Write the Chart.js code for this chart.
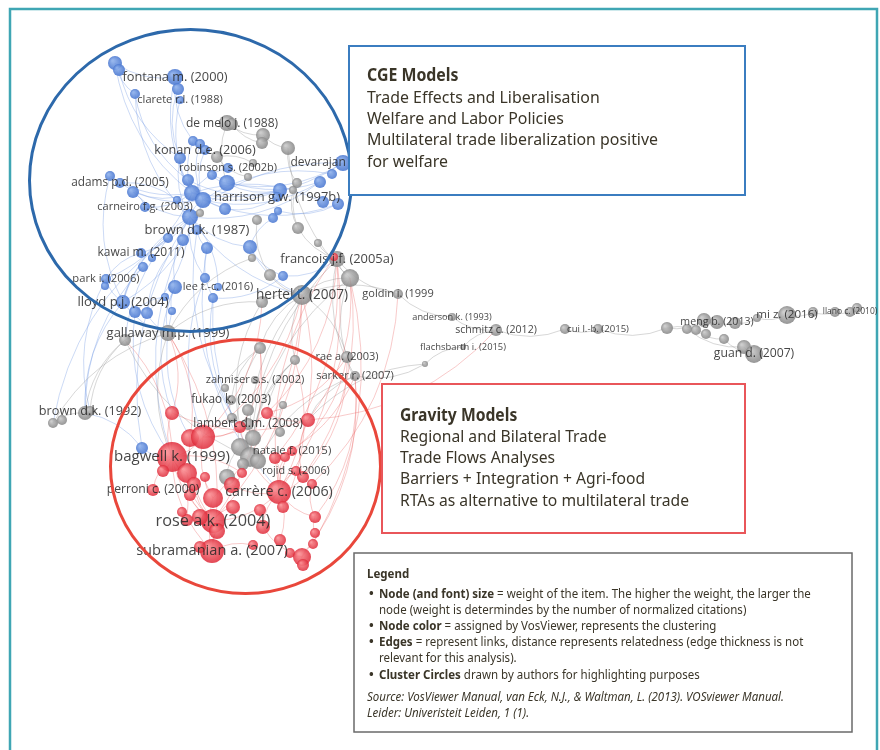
<!DOCTYPE html>
<html>
<head>
<meta charset="utf-8">
<script src="https://cdn.jsdelivr.net/npm/chart.js@4.4.1/dist/chart.umd.min.js"></script>
<style>
  body { margin: 0; background: #fff; }
  canvas { display: block; }
</style>
</head>
<body>
<canvas id="mapa" width="880" height="750"></canvas>
<script>
// nodos por cluster (coordenadas del mapa y peso -> radio)
const azulX = [115, 119, 175, 178, 135, 193, 200, 180, 110, 120, 133, 188, 212, 227, 192, 203, 177, 225, 280, 277, 278, 273, 320, 332, 343, 323, 338, 190, 197, 168, 183, 207, 250, 141, 152, 143, 106, 105, 123, 135, 147, 205, 175, 165, 213, 172, 283, 142, 145, 180, 205, 228, 218];
const azulY = [63, 70, 77, 89, 94, 141, 144, 158, 176, 183, 192, 180, 175, 183, 193, 200, 200, 209, 190, 197, 211, 218, 182, 174, 163, 202, 204, 217, 230, 238, 240, 248, 247, 253, 258, 267, 279, 286, 302, 312, 313, 278, 287, 297, 298, 311, 276, 448, 207, 100, 150, 168, 287];
const azulR = [7, 6, 8, 6, 5, 5, 5, 6, 5, 5, 6, 6, 5, 8, 8, 8, 4, 6, 7, 5, 4, 5, 6, 5, 8, 6, 6, 8, 5, 5, 6, 6, 7, 5, 4, 5, 5, 4, 7, 6, 6, 5, 7, 4, 5, 4, 5, 6, 5, 4, 5, 5, 4];

const grisX = [227, 232, 217, 263, 262, 288, 253, 248, 297, 293, 200, 257, 298, 318, 252, 270, 337, 350, 302, 262, 398, 125, 168, 260, 295, 347, 355, 255, 231, 248, 283, 232, 280, 253, 240, 250, 258, 243, 227, 53, 62, 85, 90, 452, 496, 463, 425, 565, 598, 667, 687, 704, 717, 706, 696, 724, 735, 744, 754, 757, 787, 813, 835, 850, 857, 225, 248];
const grisY = [123, 124, 157, 135, 143, 148, 163, 177, 183, 190, 213, 220, 228, 243, 258, 275, 259, 278, 295, 302, 294, 340, 333, 348, 360, 357, 376, 380, 400, 410, 405, 418, 432, 438, 447, 457, 461, 464, 477, 423, 420, 413, 411, 317, 330, 347, 364, 329, 329, 328, 329, 320, 322, 334, 330, 339, 323, 347, 354, 318, 315, 312, 312, 312, 308, 388, 424];
const grisR = [8, 6, 6, 7, 6, 7, 4, 4, 5, 4, 4, 5, 6, 4, 4, 6, 8, 9, 10, 6, 5, 6, 8, 6, 5, 6, 5, 4, 5, 6, 4, 5, 5, 8, 9, 10, 8, 6, 8, 5, 5, 7, 5, 4, 6, 3, 3, 5, 5, 6, 5, 7, 7, 5, 5, 5, 6, 7, 9, 4, 9, 5, 5, 5, 5, 4, 6];

const rojoX = [172, 190, 203, 172, 163, 187, 194, 205, 153, 190, 213, 232, 242, 240, 267, 308, 275, 285, 303, 312, 279, 283, 260, 233, 213, 200, 187, 217, 263, 315, 315, 313, 280, 253, 212, 200, 290, 302, 303, 182, 334, 292, 296];
const rojoY = [413, 438, 437, 457, 471, 473, 484, 477, 490, 495, 498, 485, 473, 427, 413, 420, 458, 457, 477, 484, 492, 507, 510, 507, 521, 517, 520, 531, 527, 517, 533, 544, 540, 545, 551, 547, 553, 557, 565, 512, 257, 451, 471];
const rojoR = [7, 9, 12, 15, 6, 10, 7, 5, 6, 6, 10, 8, 5, 6, 6, 7, 6, 5, 6, 5, 12, 6, 6, 7, 12, 8, 6, 8, 7, 6, 5, 5, 6, 5, 12, 6, 5, 9, 6, 5, 4, 5, 5];

// enlaces entre nodos (b = azul, g = gris, r = rojo)
const enlaces = [
  'b0-b4', 'b1-b7', 'b0-b2', 'b2-b5', 'b3-b7', 'b4-b11', 'b49-b14', 'b5-b14', 'b6-b15', 'b7-b14', 'b7-b27', 'b8-b14',
  'b9-b15', 'b10-b14', 'b10-b27', 'b11-b18', 'b12-b22', 'b13-b18', 'b13-b24', 'b14-b18', 'b14-b24', 'b15-b26', 'b15-b22',
  'b16-b27', 'b17-b19', 'b14-b27', 'b15-b27', 'b27-b38', 'b27-b42', 'b27-b41', 'b27-b32', 'b29-b38', 'b30-b40', 'b31-b44',
  'b33-b36', 'b35-b38', 'b36-b38', 'b27-b22', 'b28-b31', 'b32-b46', 'b21-b32', 'b42-b45', 'b43-b39', 'b44-b46', 'b20-b26',
  'b25-b14', 'b48-b14', 'b48-b10', 'b2-b14', 'b12-b13', 'b11-b17', 'b16-b9', 'b50-b15', 'b51-b14', 'b52-b27', 'b23-b15',
  'b24-b27', 'b36-b14', 'b38-b15', 'b0-b14', 'b4-b27', 'b33-b27', 'b40-b27', 'b8-b38',
  'b38-g22', 'b40-g22', 'b42-g22', 'b27-g21', 'b27-g18', 'b32-g18', 'b46-g16', 'b47-g41', 'b47-r3', 'b27-b47', 'b44-r20',
  'b41-r2', 'b44-r13', 'b30-r3', 'b29-g39', 'b31-g35', 'b35-g41', 'b38-g41', 'b39-r3', 'b36-g42', 'b42-r0', 'b45-r1',
  'b28-r13',
  'g0-g3', 'g0-b13', 'g3-g5', 'g5-g8', 'g8-g12', 'g12-g16', 'g16-g17', 'g17-g18', 'g18-g19', 'g16-g20', 'g20-g43', 'g43-g44',
  'g44-g47', 'g47-g48', 'g48-g49', 'g49-g51', 'g51-g52', 'g52-g56', 'g56-g59', 'g59-g60', 'g60-g61', 'g61-g62', 'g62-g63',
  'g63-g64', 'g50-g57', 'g57-g58', 'g54-g55', 'g55-g58', 'g44-g45', 'g45-g46', 'g46-r15', 'g22-g21', 'g21-g41', 'g41-g39',
  'g22-g39', 'g18-g23', 'g18-g24', 'g23-g28', 'g24-g33', 'g25-g26', 'g25-g18', 'g26-r15', 'g26-g36', 'g15-g18', 'g13-g16',
  'g11-g15', 'g14-g22', 'g6-g2', 'g19-g22', 'g23-g34', 'g24-g35', 'g28-g31', 'g29-g33', 'g34-g38', 'g35-g37', 'g30-g32',
  'g17-g33', 'g16-g35', 'g5-g17', 'g9-g12', 'g20-g18', 'g1-g4', 'g2-g7', 'g53-g49', 'g18-g35', 'g21-g35', 'g22-r3',
  'g21-g42', 'g19-r13', 'g23-r2', 'g24-r14', 'g26-g46', 'g17-g25', 'g16-g26',
  'r3-r2', 'r3-r5', 'r2-r13', 'r2-r10', 'r5-r24', 'r10-r24', 'r24-r34', 'r24-r20', 'r20-r16', 'r20-r18', 'r20-r28', 'r3-r8',
  'r3-r24', 'r2-r14', 'r1-r24', 'r0-r3', 'r13-r20', 'r14-r15', 'r15-r18', 'r17-r20', 'r19-r29', 'r29-r30', 'r30-r31',
  'r31-r37', 'r37-r38', 'r36-r37', 'r32-r20', 'r33-r34', 'r34-r35', 'r27-r34', 'r22-r28', 'r23-r24', 'r21-r20', 'r11-r20',
  'r12-r3', 'r9-r24', 'r6-r24', 'r7-r10', 'r39-r24', 'r25-r24', 'r26-r3', 'r4-r3', 'r28-r37', 'r20-r29', 'r20-g16',
  'r15-g17', 'r2-g18', 'r14-g25', 'r10-g18', 'r16-g26', 'r17-g25', 'r2-g19', 'r1-g22', 'r13-g23', 'r14-g16', 'r40-r20',
  'r41-r20', 'r42-r20', 'r0-g22', 'r15-g44', 'r3-g21', 'r18-g17', 'r24-g23', 'r3-r34', 'r0-r15', 'r18-g25', 'r29-g26',
  'r21-g24', 'r37-g26', 'r31-g17', 'r20-g18', 'r24-g18', 'r34-g22', 'r16-g16', 'r19-g20'
];

// etiquetas: nodo, texto, tamaño de fuente
const etiquetaNodo = ['b2', 'b49', 'g1', 'b50', 'b51', 'b24', 'b9', 'b19', 'b48', 'b28', 'b33', 'g16', 'b36', 'b52', 'g18', 'g20', 'b38', 'g22', 'g43', 'g44', 'g48', 'g52', 'g60', 'g63', 'g58', 'g45', 'g25', 'g26', 'g27', 'g28', 'g42', 'g66', 'r41', 'r3', 'r42', 'r8', 'r20', 'r24', 'r34'];
const etiquetaTexto = ['fontana m. (2000)', 'clarete r.l. (1988)', 'de melo j. (1988)', 'konan d.e. (2006)', 'robinson s. (2002b)', 'devarajan s. (1997)', 'adams p.d. (2005)', 'harrison g.w. (1997b)', 'carneiro f.g. (2003)', 'brown d.k. (1987)', 'kawai m. (2011)', 'francois j.f. (2005a)', 'park i. (2006)', 'lee t.-c. (2016)', 'hertel t. (2007)', 'goldin i. (1999', 'lloyd p.j. (2004)', 'gallaway m.p. (1999)', 'anderson k. (1993)', 'schmitz c. (2012)', 'cui l.-b. (2015)', 'meng b. (2013)', 'mi z. (2016)', 'llano c. (2010)', 'guan d. (2007)', 'flachsbarth i. (2015)', 'rae a. (2003)', 'sarker r. (2007)', 'zahniser s.s. (2002)', 'fukao k. (2003)', 'brown d.k. (1992)', 'lambert d.m. (2008)', 'natale f. (2015)', 'bagwell k. (1999)', 'rojid s. (2006)', 'perroni c. (2000)', 'carrère c. (2006)', 'rose a.k. (2004)', 'subramanian a. (2007)'];
const etiquetaTam = [12.8, 11, 12, 12.7, 11, 12, 11.8, 12.9, 11, 13, 12, 12.9, 11.2, 10.9, 13.6, 11, 13, 13, 9.2, 10.6, 9.6, 10.6, 11.6, 8.5, 12.2, 9.4, 11, 11.1, 11.2, 11.7, 12.7, 12, 11.4, 15, 10.8, 12.2, 14.3, 16.3, 14.6];

// textos de los recuadros
const cgeTitulo = 'CGE Models';
const cgeLineas = ['Trade Effects and Liberalisation', 'Welfare and Labor Policies', 'Multilateral trade liberalization positive', 'for welfare'];
const gravTitulo = 'Gravity Models';
const gravLineas = ['Regional and Bilateral Trade', 'Trade Flows Analyses', 'Barriers + Integration + Agri-food', 'RTAs as alternative to multilateral trade'];
const leyendaLineas = [
  ['• ', 'Node (and font) size', ' = weight of the item. The higher the weight, the larger the'],
  ['', '', 'node (weight is determindes by the number of normalized citations)'],
  ['• ', 'Node color', ' = assigned by VosViewer, represents the clustering'],
  ['• ', 'Edges', ' = represent links, distance represents relatedness (edge thickness is not'],
  ['', '', 'relevant for this analysis).'],
  ['• ', 'Cluster Circles', ' drawn by authors for highlighting purposes']
];
const fuenteLineas = ['Source: VosViewer Manual, van Eck, N.J., & Waltman, L. (2013). VOSviewer Manual.', 'Leider: Univeristeit Leiden, 1 (1).'];

const puntos = (xs, ys, rs) => xs.map((x, i) => ({ x: x, y: ys[i], r: rs[i] }));
const nodos = { b: puntos(azulX, azulY, azulR), g: puntos(grisX, grisY, grisR), r: puntos(rojoX, rojoY, rojoR) };
const nodo = id => nodos[id[0]][parseInt(id.slice(1))];

const colores = {
  b: { claro: 'rgba(140,175,235,0.9)', base: 'rgba(72,118,208,0.88)', arista: 'rgba(110,150,225,0.35)' },
  g: { claro: 'rgba(200,200,200,0.9)', base: 'rgba(135,135,135,0.88)', arista: 'rgba(150,150,150,0.38)' },
  r: { claro: 'rgba(250,140,145,0.9)', base: 'rgba(222,40,55,0.85)', arista: 'rgba(235,95,95,0.33)' }
};

// relleno con degradado tipo VOSviewer
const sombreado = clave => c => {
  const p = c.raw;
  const sx = c.chart.scales.x, sy = c.chart.scales.y;
  if (!p || !sx || !sy) return colores[clave].base;
  const x = sx.getPixelForValue(p.x), y = sy.getPixelForValue(p.y);
  if (!Number.isFinite(x) || !Number.isFinite(y)) return colores[clave].base;
  const g = c.chart.ctx.createRadialGradient(x - p.r * 0.35, y - p.r * 0.35, p.r * 0.1, x, y, p.r);
  g.addColorStop(0, colores[clave].claro);
  g.addColorStop(1, colores[clave].base);
  return g;
};

const fondo = {
  id: 'fondo',
  beforeDraw(chart) {
    const ctx = chart.ctx;
    ctx.save();
    ctx.fillStyle = '#fff';
    ctx.fillRect(0, 0, chart.width, chart.height);
    ctx.strokeStyle = '#3fa6b4';
    ctx.lineWidth = 2.5;
    ctx.beginPath();
    ctx.moveTo(10, 750);
    ctx.lineTo(10, 9);
    ctx.lineTo(877, 9);
    ctx.lineTo(877, 750);
    ctx.stroke();
    ctx.restore();
  }
};

const aristas = {
  id: 'aristas',
  beforeDatasetsDraw(chart) {
    const ctx = chart.ctx, sx = chart.scales.x, sy = chart.scales.y;
    ctx.save();
    ctx.lineWidth = 1;
    enlaces.forEach(e => {
      const [a, b] = e.split('-');
      const p = nodo(a), q = nodo(b);
      const x1 = sx.getPixelForValue(p.x), y1 = sy.getPixelForValue(p.y);
      const x2 = sx.getPixelForValue(q.x), y2 = sy.getPixelForValue(q.y);
      const mx = (x1 + x2) / 2, my = (y1 + y2) / 2;
      const cx = mx - (y2 - y1) * 0.2, cy = my + (x2 - x1) * 0.2;
      ctx.strokeStyle = colores[a[0]].arista;
      ctx.beginPath();
      ctx.moveTo(x1, y1);
      ctx.quadraticCurveTo(cx, cy, x2, y2);
      ctx.stroke();
    });
    ctx.restore();
  }
};

// texto condensado, con tramos de distinta fuente
const escribir = (ctx, tramos, x, y, f) => {
  ctx.save();
  ctx.translate(x, y);
  ctx.scale(f, 1);
  let dx = 0;
  tramos.forEach(([fuente, txt]) => {
    ctx.font = fuente;
    ctx.fillText(txt, dx, 0);
    dx += ctx.measureText(txt).width;
  });
  ctx.restore();
};

const factor = (ctx, fuente, txt, ancho) => {
  ctx.font = fuente;
  return ancho / ctx.measureText(txt).width;
};

const recuadro = (ctx, x, y, w, h, color, grosor) => {
  ctx.fillStyle = '#fff';
  ctx.fillRect(x, y, w, h);
  ctx.strokeStyle = color;
  ctx.lineWidth = grosor;
  ctx.strokeRect(x, y, w, h);
};

const anotaciones = {
  id: 'anotaciones',
  afterDatasetsDraw(chart) {
    const ctx = chart.ctx, sx = chart.scales.x, sy = chart.scales.y;
    ctx.save();
    // etiquetas de nodos
    ctx.textAlign = 'center';
    ctx.textBaseline = 'middle';
    ctx.fillStyle = 'rgba(38,38,38,0.85)';
    etiquetaNodo.forEach((id, i) => {
      const p = nodo(id);
      ctx.font = `${etiquetaTam[i]}px "Open Sans"`;
      ctx.fillText(etiquetaTexto[i], sx.getPixelForValue(p.x), sy.getPixelForValue(p.y));
    });

    // circulos de cluster
    ctx.lineWidth = 3;
    ctx.strokeStyle = '#2d69ab';
    ctx.beginPath();
    ctx.ellipse(190.5, 180.5, 161, 151, 0, 0, Math.PI * 2);
    ctx.stroke();
    ctx.strokeStyle = '#e9473b';
    ctx.beginPath();
    ctx.ellipse(245.5, 466.5, 135, 127, 0, 0, Math.PI * 2);
    ctx.stroke();

    // recuadros
    ctx.textAlign = 'left';
    const reg = '17px "Noto Sans"', neg = 'bold 17px "Noto Sans"';

    recuadro(ctx, 349, 46, 396, 149, '#3b7dc0', 2);
    ctx.fillStyle = '#3a3528';
    let f = factor(ctx, reg, cgeLineas[2], 291);
    escribir(ctx, [[neg, cgeTitulo]], 367, 76, f);
    cgeLineas.forEach((l, i) => escribir(ctx, [[reg, l]], 367, 98 + i * 21.3, f));

    recuadro(ctx, 382, 384, 363, 149, '#e9565a', 2);
    ctx.fillStyle = '#3a3528';
    f = factor(ctx, reg, gravLineas[3], 289);
    escribir(ctx, [[neg, gravTitulo]], 400, 416, f);
    gravLineas.forEach((l, i) => escribir(ctx, [[reg, l]], 400, 437 + i * 21.3, f));

    recuadro(ctx, 354, 553, 498, 179, '#6a6a6a', 1.5);
    ctx.fillStyle = '#3a3528';
    const lr = '12.5px "Noto Sans"', lb = 'bold 12.5px "Noto Sans"', li = 'italic 12.5px "Noto Sans"';
    f = factor(ctx, li, fuenteLineas[0], 417);
    escribir(ctx, [[lb, 'Legend']], 367, 574, f);
    const ys = [594, 610, 626, 642, 658, 675];
    leyendaLineas.forEach(([bala, fuerte, resto], i) => {
      if (bala) escribir(ctx, [[lb, '•']], 369, ys[i], 1);
      escribir(ctx, [[lb, fuerte], [lr, resto]], 379, ys[i], f);
    });
    fuenteLineas.forEach((l, i) => escribir(ctx, [[li, l]], 367, 697 + i * 16, f));
    ctx.restore();
  }
};

const serie = (clave, orden) => ({
  data: nodos[clave],
  backgroundColor: sombreado(clave),
  borderWidth: 0,
  order: orden
});

new Chart(document.getElementById('mapa'), {
  type: 'bubble',
  data: { datasets: [serie('r', 1), serie('g', 2), serie('b', 3)] },
  options: {
    responsive: false,
    animation: false,
    devicePixelRatio: 1,
    layout: { autoPadding: false, padding: 0 },
    events: [],
    plugins: { legend: { display: false }, tooltip: { enabled: false } },
    scales: {
      x: { type: 'linear', min: 0, max: 880, display: false },
      y: { type: 'linear', min: 0, max: 750, reverse: true, display: false }
    }
  },
  plugins: [fondo, aristas, anotaciones]
});
</script>
</body>
</html>
